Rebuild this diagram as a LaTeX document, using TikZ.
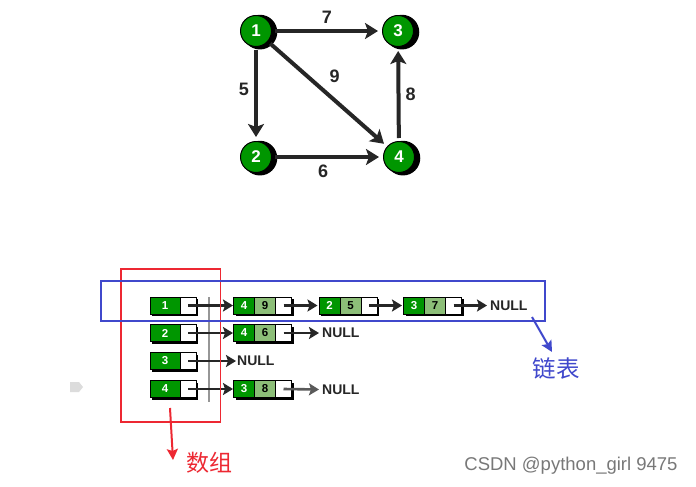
\documentclass[tikz,border=0pt]{standalone}
\usepackage{fontspec}
\setmainfont{Liberation Sans}
\newfontfamily\cjk{Noto Sans CJK SC}
\usetikzlibrary{arrows.meta,shadows}
\definecolor{dkgreen}{RGB}{0,150,0}
\definecolor{ltgreen}{RGB}{140,190,120}
\definecolor{edgec}{RGB}{38,38,38}
\definecolor{myblue}{RGB}{64,72,204}
\definecolor{myred}{RGB}{237,40,50}
\definecolor{wmgray}{RGB}{120,120,120}
\definecolor{vgray}{RGB}{150,150,150}
\definecolor{fadeptr}{RGB}{90,90,90}
\definecolor{markgray}{RGB}{220,220,220}
\begin{document}
\begin{tikzpicture}[x=1pt,y=-1pt,
  gnode/.style={circle, fill=dkgreen, draw=black, line width=1pt, minimum size=31pt, inner sep=0pt,
    text=white, font=\bfseries\fontsize{17}{17}\selectfont,
    drop shadow={shadow xshift=3.5pt, shadow yshift=-1pt, shadow scale=1.12, fill=black, opacity=1}},
  gedge/.style={draw=edgec, line width=4pt, -{Stealth[length=13pt,width=16pt,inset=3pt]}, shorten >=4pt, shorten <=3pt},
  lab/.style={font=\bfseries\fontsize{18}{18}\selectfont, text=edgec, inner sep=1pt},
  cellbase/.style={rectangle, draw=black, line width=1pt, minimum height=17pt, inner sep=0pt,
    font=\bfseries\fontsize{11.5}{11.5}\selectfont,
    drop shadow={shadow xshift=2.2pt, shadow yshift=-2pt, fill=black, opacity=1}},
  acell/.style={cellbase, fill=dkgreen, text=white, minimum width=30pt},
  pcell/.style={cellbase, fill=white, minimum width=16pt},
  kcell/.style={cellbase, fill=dkgreen, text=white, minimum width=21pt},
  wcell/.style={cellbase, fill=ltgreen, text=black, minimum width=21pt},
  ptr/.style={draw=edgec, line width=2.6pt, -{Stealth[length=10pt,width=12pt,inset=2pt]}},
  nulltxt/.style={font=\bfseries\fontsize{14}{14}\selectfont, anchor=west, inner sep=0pt, text=edgec},
  redbox/.style={draw=myred, line width=1.6pt, inner sep=0pt},
  bluebox/.style={draw=myblue, line width=1.8pt, inner sep=0pt},
]
\useasboundingbox (0,0) rectangle (696,487);
\fill[white] (0,0) rectangle (696,487);

% ---------- graph ----------
\node[gnode] (n1) at (256,31) {1};
\node[gnode] (n3) at (398,31) {3};
\node[gnode] (n2) at (256,157) {2};
\node[gnode] (n4) at (399,157) {4};

\draw[gedge] (n1) -- node[lab, above=4pt] {7} (n3);
\draw[gedge] (n1) -- node[lab, left=4pt, pos=0.45] {5} (n2);
\draw[gedge] (n1) -- node[lab, above right=4pt, pos=0.46] {9} (n4);
\draw[gedge] (n2) -- node[lab, below=5pt, pos=0.46] {6} (n4);
\draw[gedge] (n4) -- node[lab, right=4pt] {8} (n3);

% ---------- adjacency list ----------
\draw[draw=vgray, line width=2.5pt] (209,297) -- (209,402);

% array
\node[acell] (a1) at (165,305.5) {1};
\node[pcell] (a1p) at (188,305.5) {};
\node[acell] (a2) at (165,333) {2};
\node[pcell] (a2p) at (188,333) {};
\node[acell] (a3) at (165,361) {3};
\node[pcell] (a3p) at (188,361) {};
\node[acell] (a4) at (165,389) {4};
\node[pcell] (a4p) at (188,389) {};

% row 1
\node[kcell] (r1ak) at (244,305.5) {4};
\node[wcell] (r1aw) at (265,305.5) {9};
\node[pcell] (r1ap) at (283.5,305.5) {};
\node[kcell] (r1bk) at (329.5,305.5) {2};
\node[wcell] (r1bw) at (350.5,305.5) {5};
\node[pcell] (r1bp) at (369,305.5) {};
\node[kcell] (r1ck) at (414,305.5) {3};
\node[wcell] (r1cw) at (435,305.5) {7};
\node[pcell] (r1cp) at (453.5,305.5) {};
\node[nulltxt] (null1) at (490,305.5) {NULL};

% row 2
\node[kcell] (r2ak) at (244,333) {4};
\node[wcell] (r2aw) at (265,333) {6};
\node[pcell] (r2ap) at (283.5,333) {};
\node[nulltxt] (null2) at (322,333) {NULL};

% row 3
\node[nulltxt] (null3) at (237,361) {NULL};

% row 4
\node[kcell] (r4ak) at (244,389) {3};
\node[wcell] (r4aw) at (265,389) {8};
\node[pcell] (r4ap) at (283.5,389) {};
\node[nulltxt] (null4) at (322,389.5) {NULL};

% pointers
\draw[ptr] (a1p.center) -- (r1ak.west);
\draw[ptr] (r1ap.center) -- ([xshift=-1pt]r1bk.west);
\draw[ptr] (r1bp.center) -- ([xshift=-1pt]r1ck.west);
\draw[ptr] (r1cp.center) -- ([xshift=-3pt]null1.west);
\draw[ptr] (a2p.center) -- (r2ak.west);
\draw[ptr] (r2ap.center) -- ([xshift=-3pt]null2.west);
\draw[ptr] (a3p.center) -- ([xshift=-1pt]null3.west);
\draw[ptr] (a4p.center) -- (r4ak.west);
\draw[ptr, draw=fadeptr] (r4ap.center) -- ([xshift=-3pt]null4.west);

% boxes
\node[redbox, minimum width=99.5pt, minimum height=152.5pt] (arrbox) at (170.75,345.5) {};
\node[bluebox, minimum width=444pt, minimum height=40pt] (listbox) at (323,301) {};

\coordinate (ra) at (170,408);
\coordinate (rb) at (173,460);
\draw[myred, line width=2pt, -{Stealth[length=11pt,width=11pt,inset=2pt]}] (ra) -- (rb);
\node[text=myred, font=\cjk\fontsize{23}{23}\selectfont] (arrlab) at (209,462.5) {数组};

\coordinate (ba) at (532,317);
\coordinate (bb) at (552,352);
\draw[myblue, line width=2pt, -{Stealth[length=11pt,width=11pt,inset=2pt]}] (ba) -- (bb);
\node[text=myblue, font=\cjk\fontsize{23.5}{23.5}\selectfont] (listlab) at (556,368.5) {链表};

% small gray mark
\fill[markgray] (70,382) -- (79,382) -- (83,387) -- (79,392) -- (70,392) -- cycle;

% watermark
\node[text=wmgray, font=\fontsize{18.5}{18.5}\selectfont] (wm) at (571,466) {CSDN @python\_girl 9475};
\end{tikzpicture}
\end{document}
